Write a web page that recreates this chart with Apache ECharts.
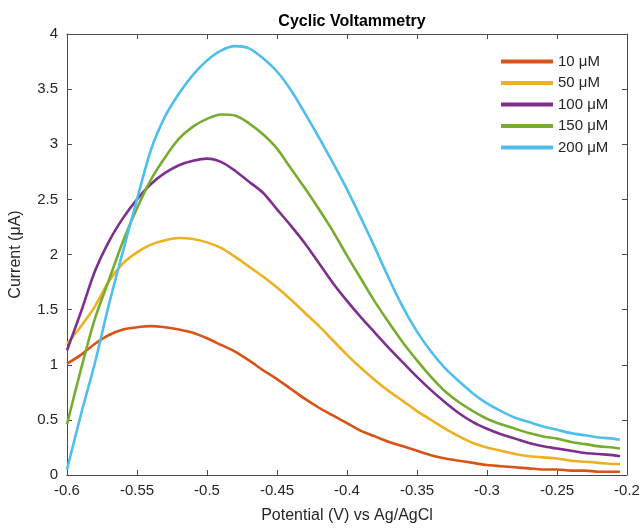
<!DOCTYPE html>
<html>
<head>
<meta charset="utf-8">
<script src="https://cdn.jsdelivr.net/npm/echarts@6/dist/echarts.min.js"></script>
<style>
html,body{margin:0;padding:0;background:#fff;}
#chart{width:643px;height:529px;}
</style>
</head>
<body>
<div id="chart"></div>
<script>
const potentials = [-0.60,-0.59,-0.58,-0.57,-0.56,-0.55,-0.54,-0.53,-0.52,-0.51,-0.50,-0.49,-0.48,-0.47,-0.46,-0.45,-0.44,-0.43,-0.42,-0.41,-0.40,-0.39,-0.38,-0.37,-0.36,-0.35,-0.34,-0.33,-0.32,-0.31,-0.30,-0.29,-0.28,-0.27,-0.26,-0.25,-0.24,-0.23,-0.22,-0.21,-0.205];
const seriesNames = ['10 μM','50 μM','100 μM','150 μM','200 μM'];
const current10 = [1.01,1.09,1.19,1.27,1.32,1.34,1.35,1.34,1.32,1.29,1.24,1.18,1.12,1.04,0.95,0.87,0.78,0.69,0.61,0.54,0.47,0.40,0.35,0.30,0.26,0.22,0.18,0.15,0.13,0.11,0.09,0.08,0.07,0.06,0.05,0.05,0.04,0.04,0.03,0.03,0.03];
const current50 = [1.19,1.35,1.53,1.76,1.92,2.02,2.09,2.13,2.15,2.14,2.11,2.06,1.98,1.89,1.80,1.70,1.59,1.47,1.35,1.22,1.09,0.97,0.86,0.76,0.67,0.58,0.50,0.42,0.35,0.29,0.25,0.22,0.19,0.17,0.16,0.15,0.13,0.12,0.11,0.10,0.10];
const current100 = [1.13,1.48,1.85,2.12,2.33,2.50,2.64,2.74,2.81,2.85,2.87,2.84,2.76,2.66,2.56,2.41,2.26,2.10,1.92,1.74,1.58,1.43,1.29,1.15,1.02,0.89,0.77,0.66,0.56,0.48,0.42,0.37,0.33,0.29,0.26,0.24,0.22,0.20,0.19,0.18,0.17];
const current150 = [0.46,0.96,1.42,1.77,2.12,2.42,2.68,2.88,3.05,3.16,3.23,3.27,3.26,3.19,3.09,2.96,2.78,2.60,2.41,2.21,1.99,1.78,1.57,1.38,1.20,1.04,0.89,0.76,0.66,0.58,0.51,0.46,0.42,0.38,0.35,0.33,0.30,0.28,0.26,0.25,0.24];
const current200 = [0.05,0.55,1.02,1.55,2.03,2.50,2.95,3.25,3.46,3.63,3.76,3.85,3.89,3.87,3.78,3.66,3.49,3.28,3.06,2.83,2.59,2.33,2.06,1.78,1.52,1.30,1.12,0.97,0.85,0.74,0.65,0.58,0.52,0.48,0.44,0.41,0.38,0.36,0.34,0.33,0.32];
const colors = ['#D95319','#EDB120','#7E2F8E','#77AC30','#4DBEEE'];
const xTicks = {min:-0.6, max:-0.2, interval:0.05};
const yTicks = {min:0, max:4, interval:0.5};

const allCurrents = [current10,current50,current100,current150,current200];
const font = 'Liberation Sans, Arial, Helvetica, sans-serif';
const axisColor = '#4a4a4a';
const textColor = '#262626';

const chart = echarts.init(document.getElementById('chart'), null, {renderer:'canvas'});
const series = allCurrents.map((cur,i)=>({
  name: seriesNames[i],
  type:'line',
  xAxisIndex:0, yAxisIndex:0,
  data: potentials.map((p,j)=>[p,cur[j]]),
  showSymbol:false,
  smooth:0.3,
  lineStyle:{width:2.6,color:colors[i]},
  itemStyle:{color:colors[i]},
  z: 2
}));

const commonX = {
  type:'value', min:xTicks.min, max:xTicks.max, interval:xTicks.interval,
  splitLine:{show:false},
  axisLine:{show:true,onZero:false,lineStyle:{color:axisColor,width:1}},
  axisTick:{show:true,inside:true,length:5,lineStyle:{color:axisColor}}
};
const commonY = {
  type:'value', min:yTicks.min, max:yTicks.max, interval:yTicks.interval,
  splitLine:{show:false},
  axisLine:{show:true,onZero:false,lineStyle:{color:axisColor,width:1}},
  axisTick:{show:true,inside:true,length:5,lineStyle:{color:axisColor}}
};

chart.setOption({
  animation:false,
  backgroundColor:'#fff',
  title:{
    text:'Cyclic Voltammetry', left:347, top:9, textAlign:'center',
    textStyle:{fontFamily:font,fontSize:16,fontWeight:'bold',color:'#000'}
  },
  legend:{
    data:seriesNames,
    orient:'vertical',
    left:501, top:54,
    itemWidth:52, itemHeight:4, itemGap:6.5,
    icon:'rect',
    textStyle:{fontFamily:font,fontSize:15,color:textColor,padding:[0,0,0,0]},
    padding:0
  },
  grid:{left:67,right:16,top:34,bottom:53,containLabel:false},
  xAxis:[
    Object.assign({},commonX,{
      position:'bottom',
      name:'Potential (V) vs Ag/AgCl', nameLocation:'middle', nameGap:33,
      nameTextStyle:{fontFamily:font,fontSize:16,color:textColor},
      axisLabel:{fontFamily:font,fontSize:15,color:textColor,margin:8,
        formatter:v=>String(parseFloat(v.toFixed(2)))}
    }),
    Object.assign({},commonX,{position:'top',axisLabel:{show:false}})
  ],
  yAxis:[
    Object.assign({},commonY,{
      position:'left',
      name:'Current (μA)', nameLocation:'middle', nameGap:43,
      nameTextStyle:{fontFamily:font,fontSize:16,color:textColor},
      axisLabel:{fontFamily:font,fontSize:15,color:textColor,margin:9,
        formatter:v=>String(parseFloat(v.toFixed(2)))}
    }),
    Object.assign({},commonY,{position:'right',axisLabel:{show:false}})
  ],
  series:series
});
</script>
</body>
</html>
